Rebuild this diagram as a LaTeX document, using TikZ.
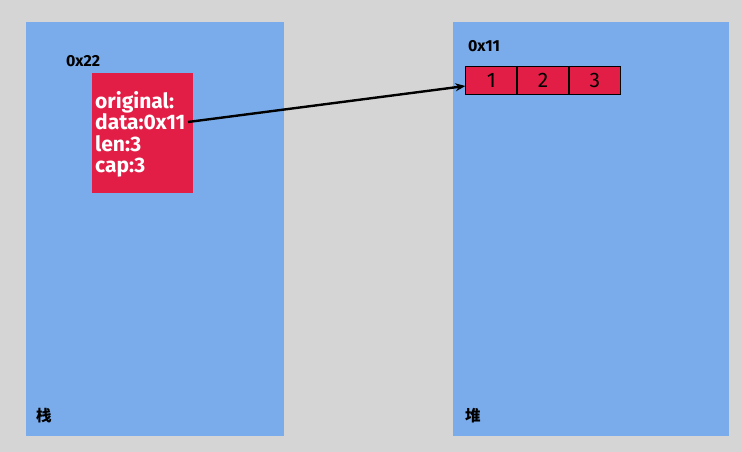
\documentclass[tikz,border=0pt]{standalone}
\usepackage{fontspec}
\setmainfont{Fira Sans}
\newfontfamily\cjk{Noto Sans CJK SC}
\newfontfamily\lblfont{Fira Sans}
\usetikzlibrary{arrows.meta,calc}
\definecolor{bggray}{HTML}{D5D5D5}
\definecolor{panelblue}{HTML}{7AACEC}
\definecolor{boxred}{HTML}{E31E46}
\begin{document}
\begin{tikzpicture}[x=1pt,y=-1pt,
  panel/.style={fill=panelblue,draw=none},
  addr/.style={font=\lblfont\bfseries\fontsize{16}{17}\selectfont,inner sep=0pt,anchor=west},
  cell/.style={draw=black,line width=0.8pt,fill=boxred,minimum width=51pt,minimum height=28.5pt,inner sep=0pt,font=\fontsize{21}{22}\selectfont,anchor=west},
  zh/.style={font=\cjk\bfseries\fontsize{15.5}{16}\selectfont,inner sep=0pt,anchor=west}]
\fill[bggray] (0,0) rectangle (742,452);
\useasboundingbox (0,0) rectangle (742,452);
\fill[panel] (26,22) rectangle (284,436);
\fill[panel] (453,22) rectangle (729,436);
\node[addr] (a22) at (66,61) {0x22};
\node[addr] (a11) at (468,46) {0x11};
\fill[boxred] (92,73) rectangle (193,193);
\node[anchor=north west,inner sep=0pt,text=white,align=left,
  font=\bfseries\fontsize{21}{21.5}\selectfont] (orig) at (95,91) {original:\\data:0x11\\len:3\\cap:3};
\coordinate (src) at (188,122);
\node[cell] (c1) at (465.4,80.5) {1};
\node[cell,anchor=west] (c2) at (c1.east) {2};
\node[cell,anchor=west] (c3) at (c2.east) {3};
\coordinate (dst) at ($(c1.west)+(0,5.5)$);
\draw[line width=2.4pt,-{Stealth[length=10pt,width=8pt]}] (src) -- (dst);
\node[zh] (stack) at (36,416) {栈};
\node[zh] (heap) at (465,416) {堆};
\end{tikzpicture}
\end{document}
